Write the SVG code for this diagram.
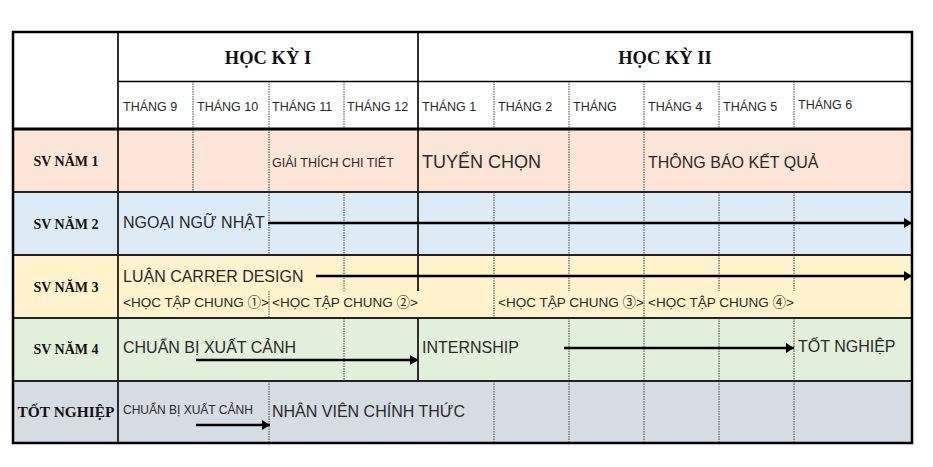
<svg xmlns="http://www.w3.org/2000/svg" width="933" height="467" viewBox="0 0 933 467">
<defs>
<style>
.lbl{font-family:"Liberation Serif","Times New Roman",serif;font-weight:bold;font-size:14px;fill:#111;text-anchor:middle}
.sem{font-family:"Liberation Serif","Times New Roman",serif;font-weight:bold;font-size:18.5px;fill:#111;text-anchor:middle}
.mon{font-family:"Liberation Sans",Arial,sans-serif;font-size:12.5px;fill:#2a2a2a}
.t16{font-family:"Liberation Sans",Arial,"Noto Sans CJK JP",sans-serif;font-size:16px;fill:#2a2a2a}
.t12{font-family:"Liberation Sans",Arial,"Noto Sans CJK JP",sans-serif;font-size:12.5px;fill:#2a2a2a}
.t13{font-family:"Liberation Sans",Arial,"Noto Sans CJK JP",sans-serif;font-size:13.5px;fill:#2a2a2a}
.dot{stroke:#444;stroke-width:1;stroke-dasharray:1.5 1;fill:none}
.sol{stroke:#000;stroke-width:1.6;fill:none}
.sep{stroke:#222;stroke-width:2;fill:none}
.arr{stroke:#000;stroke-width:2.5;fill:none;marker-end:url(#ah)}
</style>
<marker id="ah" markerUnits="userSpaceOnUse" viewBox="0 0 8 10" refX="8" refY="5" markerWidth="8" markerHeight="10" orient="auto">
<path d="M0,0 L8,5 L0,10 Z" fill="#000"/>
</marker>
</defs>
<rect width="933" height="467" fill="#fff"/>

<g id="header">
<rect x="13" y="32" width="899" height="97" fill="#fff"/>
<text class="sem" x="268" y="64">HỌC KỲ I</text>
<text class="sem" x="665" y="64">HỌC KỲ II</text>
<text class="mon" x="123" y="111">THÁNG 9</text>
<text class="mon" x="197" y="111">THÁNG 10</text>
<text class="mon" x="272" y="111">THÁNG 11</text>
<text class="mon" x="347" y="111">THÁNG 12</text>
<text class="mon" x="422" y="111">THÁNG 1</text>
<text class="mon" x="498" y="111">THÁNG 2</text>
<text class="mon" x="573" y="111">THÁNG</text>
<text class="mon" x="648" y="111">THÁNG 4</text>
<text class="mon" x="723" y="111">THÁNG 5</text>
<text class="mon" x="798" y="109">THÁNG 6</text>
</g>

<g id="row-sv1">
<rect x="13" y="129" width="899" height="63" fill="#FCE4D6"/>
<text class="lbl" x="66" y="166">SV NĂM 1</text>
<text class="t12" x="272" y="167">GIẢI THÍCH CHI TIẾT</text>
<text class="t16" x="422" y="168" style="font-size:18px">TUYỂN CHỌN</text>
<text class="t16" x="648" y="168">THÔNG BÁO KẾT QUẢ</text>
</g>

<g id="row-sv2">
<rect x="13" y="192" width="899" height="63" fill="#DDEBF7"/>
<text class="lbl" x="66" y="229">SV NĂM 2</text>
<text class="t16" x="123" y="228">NGOẠI NGỮ NHẬT</text>
</g>

<g id="row-sv3">
<rect x="13" y="255" width="899" height="63" fill="#FFF2CC"/>
<text class="lbl" x="66" y="292">SV NĂM 3</text>
<text class="t16" x="123" y="282">LUẬN CARRER DESIGN</text>
<text class="t13" x="123" y="307">&lt;HỌC TẬP CHUNG ①&gt;</text>
<text class="t13" x="272" y="307">&lt;HỌC TẬP CHUNG ②&gt;</text>
<text class="t13" x="498" y="307">&lt;HỌC TẬP CHUNG ③&gt;</text>
<text class="t13" x="648" y="307">&lt;HỌC TẬP CHUNG ④&gt;</text>
</g>

<g id="row-sv4">
<rect x="13" y="318" width="899" height="63" fill="#E2EFDA"/>
<text class="lbl" x="66" y="354">SV NĂM 4</text>
<text class="t16" x="123" y="353">CHUẨN BỊ XUẤT CẢNH</text>
<text class="t16" x="422" y="353">INTERNSHIP</text>
<text class="t16" x="798" y="352">TỐT NGHIỆP</text>
</g>

<g id="row-tn">
<rect x="13" y="381" width="899" height="62" fill="#D6DCE4"/>
<text class="lbl" x="66" y="417" textLength="97" lengthAdjust="spacingAndGlyphs">TỐT NGHIỆP</text>
<text class="t12" x="123" y="414" style="font-size:12px">CHUẨN BỊ XUẤT CẢNH</text>
<text class="t16" x="272" y="417">NHÂN VIÊN CHÍNH THỨC</text>
</g>

<g id="grid">
<path class="dot" d="M193,81V129M269,81V129M344,81V129M494,81V129M569,81V129M644,81V129M719,81V129M794,81V129"/>
<path class="dot" d="M193,129V192M269,129V192M569,129V192M644,129V192"/>
<path class="dot" d="M269,192V255M344,192V255M494,192V255M569,192V255M644,192V255M719,192V255M794,192V255"/>
<path class="dot" d="M344,255V291M494,255V318M569,255V291M644,255V318M719,255V291M794,255V291M269,291V318"/>
<path class="dot" d="M344,318V381M569,318V381M644,318V381M719,318V381M794,318V381"/>
<path class="dot" d="M269,381V443M494,381V443M569,381V443M644,381V443M719,381V443M794,381V443"/>
<path class="sol" d="M118,32V443M418,32V291M418,318V381"/>
<path class="sol" d="M118,81.5H912"/>
<path class="sep" d="M13,192H912M13,255H912M13,318H912M13,381H912"/>
<path d="M13,129H912" stroke="#000" stroke-width="3" fill="none"/>
<rect x="13" y="32" width="899" height="411" fill="none" stroke="#000" stroke-width="2.5"/>
</g>

<g id="connectors">
<path class="arr" d="M268,223H912"/>
<path class="arr" d="M316,276H912"/>
<path class="arr" d="M196,360H418"/>
<path class="arr" d="M564,348H794"/>
<path class="arr" d="M196,425H270"/>
</g>
</svg>
